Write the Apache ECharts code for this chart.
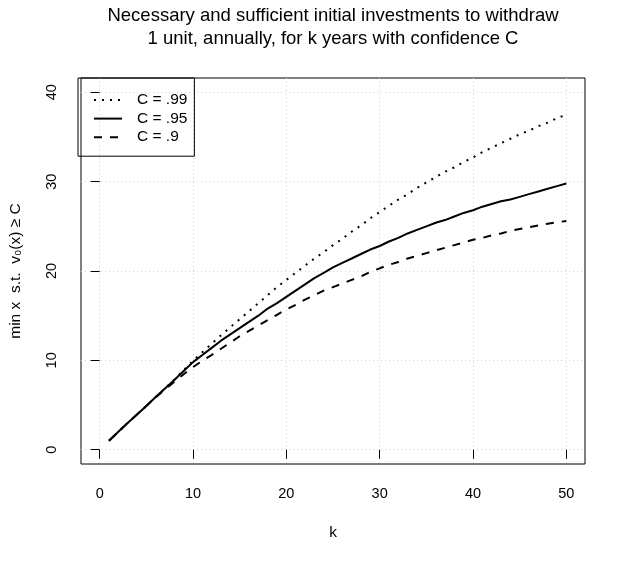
<!DOCTYPE html>
<html>
<head>
<meta charset="utf-8">
<script src="https://cdn.jsdelivr.net/npm/echarts@6/dist/echarts.min.js"></script>
<style>
  html, body { margin: 0; padding: 0; background: #fff; }
  #chart { width: 626px; height: 562px; }
</style>
</head>
<body>
<div id="chart"></div>
<script>
// years k
const years = [];
for (let k = 1; k <= 50; k++) years.push(k);

// min initial investment, one value per k
const c99 = [1.0, 2.0, 3.0, 3.95, 4.9, 5.9, 6.85, 7.85, 8.9, 9.95,
  10.9, 11.85, 12.8, 13.7, 14.6, 15.5, 16.4, 17.3, 18.2, 19.0,
  19.8, 20.6, 21.4, 22.1, 22.9, 23.6, 24.4, 25.1, 25.9, 26.6,
  27.3, 28.0, 28.6, 29.3, 29.9, 30.5, 31.1, 31.6, 32.2, 32.7,
  33.3, 33.8, 34.3, 34.8, 35.3, 35.7, 36.2, 36.6, 37.1, 37.5];
const c95 = [1.0, 2.0, 3.0, 3.95, 4.9, 5.9, 6.85, 7.8, 8.8, 9.8,
  10.6, 11.4, 12.2, 12.9, 13.6, 14.3, 15.0, 15.8, 16.4, 17.1,
  17.8, 18.5, 19.2, 19.8, 20.4, 20.9, 21.4, 21.9, 22.4, 22.8,
  23.3, 23.7, 24.2, 24.6, 25.0, 25.4, 25.7, 26.1, 26.5, 26.8,
  27.2, 27.5, 27.8, 28.0, 28.3, 28.6, 28.9, 29.2, 29.5, 29.8];
const c90 = [1.0, 2.0, 3.0, 3.95, 4.9, 5.85, 6.75, 7.6, 8.45, 9.25,
  9.95, 10.6, 11.3, 12.0, 12.7, 13.3, 13.9, 14.5, 15.1, 15.7,
  16.2, 16.8, 17.3, 17.8, 18.2, 18.6, 19.0, 19.4, 19.9, 20.3,
  20.7, 21.0, 21.4, 21.7, 22.0, 22.3, 22.6, 22.9, 23.2, 23.5,
  23.7, 24.0, 24.2, 24.5, 24.7, 24.9, 25.1, 25.3, 25.45, 25.6];

const seriesNames = ['C = .99', 'C = .95', 'C = .9'];
const xTicks = [0, 10, 20, 30, 40, 50];
const yTicks = [0, 10, 20, 30, 40];

const font = '"Liberation Sans", Arial, sans-serif';

function pairs(vals) {
  return vals.map((v, i) => [years[i], v]);
}

function lineSeries(name, vals, dash) {
  return {
    name: name,
    type: 'line',
    data: pairs(vals),
    symbol: 'none',
    showSymbol: false,
    color: '#000',
    lineStyle: { color: '#000', width: 2, type: dash }
  };
}

const chart = echarts.init(document.getElementById('chart'));

const option = {
  animation: false,
  backgroundColor: '#fff',
  title: {
    text: 'Necessary and sufficient initial investments to withdraw\n1 unit, annually, for k years with confidence C',
    left: 333,
    top: 4,
    padding: 0,
    textAlign: 'center',
    textStyle: { fontFamily: font, fontSize: 18.5, fontWeight: 'normal', color: '#000', lineHeight: 23.5 }
  },
  legend: {
    data: seriesNames,
    orient: 'vertical',
    left: 78,
    top: 78,
    itemWidth: 28,
    itemHeight: 16,
    itemGap: 2.6,
    padding: [14, 7, 11, 15],
    borderColor: '#000',
    borderWidth: 1,
    borderRadius: 0,
    itemStyle: { opacity: 0 },
    textStyle: { fontFamily: font, fontSize: 15.5, color: '#000', padding: [0, 0, 0, 10] }
  },
  grid: {
    left: 78, right: 41, top: 78, bottom: 98,
    show: true, borderColor: '#000', borderWidth: 1
  },
  xAxis: {
    type: 'value',
    min: -2, max: 52,
    name: 'k',
    nameLocation: 'middle',
    nameGap: 61,
    nameTextStyle: { fontFamily: font, fontSize: 15.5, color: '#000' },
    axisLine: { show: false },
    axisTick: { show: true, length: 9, lineStyle: { color: '#000' }, customValues: xTicks },
    axisLabel: { fontFamily: font, fontSize: 14.5, color: '#000', margin: 22, customValues: xTicks },
    splitLine: { show: true, lineStyle: { color: '#d3d3d3', width: 1, type: [1, 3] } }
  },
  yAxis: {
    type: 'value',
    min: -1.6, max: 41.6,
    name: 'min x  s.t.  v\u2080(x) \u2265 C',
    nameLocation: 'middle',
    nameGap: 57,
    nameTextStyle: { fontFamily: font, fontSize: 15.5, color: '#000' },
    axisLine: { show: false },
    axisTick: { show: true, length: 9, lineStyle: { color: '#000' }, customValues: yTicks },
    axisLabel: { fontFamily: font, fontSize: 14.5, color: '#000', margin: 22, rotate: 90, customValues: yTicks },
    splitLine: { show: true, lineStyle: { color: '#d3d3d3', width: 1, type: [1, 3] } }
  },
  series: [
    lineSeries(seriesNames[0], c99, [2, 6]),
    lineSeries(seriesNames[1], c95, 'solid'),
    lineSeries(seriesNames[2], c90, [8, 8])
  ]
};

chart.setOption(option);
</script>
</body>
</html>
